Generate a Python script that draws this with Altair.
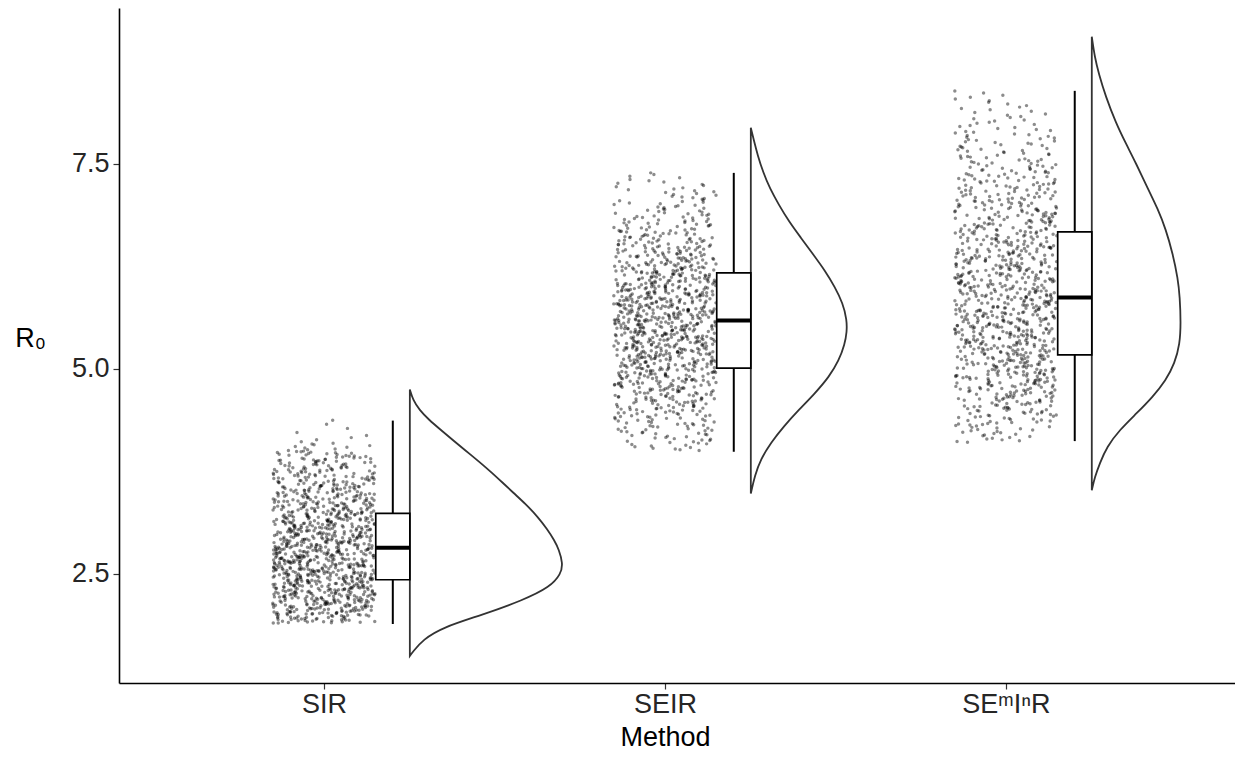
import altair as alt
import pandas as pd

# ---------------- data ----------------
METHODS = ["SIR", "SEIR", "SEᵐIⁿR"]
Y_TICKS = [2.5, 5.0, 7.5]

# jittered samples, summarised as counts per 0.1-wide R0 bin
BIN_WIDTH = 0.1
SIR_BIN_START = 1.9
SIR_COUNTS = [40, 50, 56, 60, 62, 64, 64, 64, 62, 60, 58, 56, 53, 50, 46, 42,
              38, 34, 29, 28, 24, 10, 4, 2, 2]
SEIR_BIN_START = 4.0
SEIR_COUNTS = [11, 13, 16, 18, 22, 25, 29, 32, 36, 39, 42, 45, 47, 49, 50, 50,
               50, 49, 47, 45, 42, 39, 36, 32, 29, 25, 22, 18, 16, 13, 11, 9, 7, 5]
SEMINR_BIN_START = 4.1
SEMINR_COUNTS = [10, 12, 16, 19, 22, 25, 27, 30, 32, 33, 34, 35, 36, 36, 36, 36,
                 35, 35, 34, 33, 32, 32, 31, 30, 28, 27, 26, 25, 23, 22, 20, 19,
                 17, 16, 14, 12, 11, 10, 8, 7, 6, 5, 4]

# box-plot statistics
BOX_LOW = [1.89, 3.99, 4.12]
BOX_Q1 = [2.43, 5.01, 5.17]
BOX_MEDIAN = [2.82, 5.59, 5.87]
BOX_Q3 = [3.24, 6.17, 6.67]
BOX_HIGH = [4.37, 7.39, 8.39]

# half-violin density curves
SIR_VIOLIN_R0 = [1.50, 1.55, 1.70, 1.85, 2.00, 2.18, 2.34, 2.50, 2.63, 2.80, 2.91, 3.05,
                 3.20, 3.35, 3.49, 3.65, 3.80, 3.95, 4.13, 4.26, 4.38, 4.50, 4.62, 4.75]
SIR_VIOLIN_DENS = [0, 0.014, 0.062, 0.156, 0.341, 0.536, 0.664, 0.716, 0.725, 0.706, 0.685,
                   0.650, 0.605, 0.550, 0.490, 0.425, 0.360, 0.290, 0.205, 0.145, 0.090,
                   0.045, 0.015, 0]
SEIR_VIOLIN_R0 = [3.48, 3.70, 3.90, 4.10, 4.30, 4.50, 4.70, 4.90, 5.10, 5.30, 5.45, 5.60,
                  5.80, 6.00, 6.20, 6.40, 6.60, 6.80, 7.00, 7.20, 7.40, 7.60, 7.80, 7.94]
SEIR_VIOLIN_DENS = [0, 0.019, 0.047, 0.095, 0.156, 0.227, 0.303, 0.370, 0.417, 0.445, 0.455,
                    0.455, 0.436, 0.398, 0.351, 0.294, 0.237, 0.180, 0.133, 0.090, 0.058,
                    0.033, 0.013, 0]
SEMINR_VIOLIN_R0 = [3.52, 3.68, 3.85, 4.05, 4.26, 4.46, 4.66, 4.86, 5.07, 5.30, 5.56, 5.88,
                    6.10, 6.40, 6.70, 6.95, 7.20, 7.51, 7.75, 8.00, 8.32, 8.60, 8.80, 9.05]
SEMINR_VIOLIN_DENS = [0, 0.014, 0.038, 0.071, 0.133, 0.213, 0.289, 0.351, 0.393, 0.417, 0.422,
                      0.417, 0.408, 0.384, 0.351, 0.313, 0.265, 0.209, 0.161, 0.114, 0.066,
                      0.033, 0.014, 0]

# ---------------- tables built from the arrays ----------------
bins = [(SIR_BIN_START, SIR_COUNTS), (SEIR_BIN_START, SEIR_COUNTS),
        (SEMINR_BIN_START, SEMINR_COUNTS)]
pt_rows = []
for gi, (start, counts) in enumerate(bins):
    for k, c in enumerate(counts):
        lo = start + k * BIN_WIDTH
        for i in range(c):
            pt_rows.append({"idx": gi + 1, "method": METHODS[gi],
                            "r0": lo + (i + 0.5) / c * BIN_WIDTH})
points_df = pd.DataFrame(pt_rows)

violins = [(SIR_VIOLIN_R0, SIR_VIOLIN_DENS), (SEIR_VIOLIN_R0, SEIR_VIOLIN_DENS),
           (SEMINR_VIOLIN_R0, SEMINR_VIOLIN_DENS)]
v_rows = []
for gi, (rs, ds) in enumerate(violins):
    for r, d in zip(rs, ds):
        v_rows.append({"idx": gi + 1, "method": METHODS[gi], "r0": r, "dens": d})
violin_df = pd.DataFrame(v_rows)

box_df = pd.DataFrame({"idx": [1, 2, 3], "method": METHODS, "low": BOX_LOW, "q1": BOX_Q1,
                       "median": BOX_MEDIAN, "q3": BOX_Q3, "high": BOX_HIGH})

# ---------------- scales / axes ----------------
FONT = "Liberation Sans"
label_expr = " : ".join(
    [f"datum.value == {i + 1} ? '{m}'" for i, m in enumerate(METHODS[:-1])]
) + f" : '{METHODS[-1]}'"

x_scale = alt.Scale(domain=[0.399, 3.672], nice=False, zero=False)
y_scale = alt.Scale(domain=[1.171, 9.40], nice=False, zero=False)
x_axis = alt.Axis(values=[1, 2, 3], labelExpr=label_expr, title="Method",
                  titleX=546, titleY=62, titleBaseline="alphabetic",
                  labelPadding=2)
y_axis = alt.Axis(values=Y_TICKS, format=".1f", title="R₀", titleAngle=0,
                  titleX=-89, titleY=330, titleAlign="center", titleBaseline="middle",
                  labelPadding=4)


def X(field):
    return alt.X(field, type="quantitative", scale=x_scale, axis=x_axis)


def X2(field):
    return alt.X2(field)


def Y(field):
    return alt.Y(field, type="quantitative", scale=y_scale, axis=y_axis)


pts = alt.Chart(points_df).transform_calculate(
    jx="datum.idx + (random() - 0.5) * 0.30"
).mark_circle(size=12, color="black", opacity=0.45).encode(
    x=X("jx"), y=Y("r0")
)

violin = alt.Chart(violin_df).transform_calculate(
    vb="datum.idx + 0.252", vx="datum.idx + 0.252 + datum.dens * 0.619"
).mark_area(orient="horizontal", interpolate="basis", fill="white",
            stroke="#333333", strokeWidth=1.8).encode(
    y=Y("r0"), x=X("vx"), x2=X2("vb"), detail="method:N"
)

box_base = alt.Chart(box_df).transform_calculate(
    bx1="datum.idx + 0.152", bx2="datum.idx + 0.252", wx="datum.idx + 0.202"
)
whisk_hi = box_base.mark_rule(color="black", strokeWidth=2).encode(
    x=X("wx"), y=Y("q3"), y2=alt.Y2("high"))
whisk_lo = box_base.mark_rule(color="black", strokeWidth=2).encode(
    x=X("wx"), y=Y("low"), y2=alt.Y2("q1"))
box = box_base.mark_rect(fill="white", stroke="black", strokeWidth=1.7).encode(
    x=X("bx1"), x2=X2("bx2"), y=Y("q1"), y2=alt.Y2("q3"))
med = box_base.mark_rule(color="black", strokeWidth=4).encode(
    x=X("bx1"), x2=X2("bx2"), y=Y("median"))

chart = alt.layer(violin, pts, whisk_hi, whisk_lo, box, med).properties(
    width=1116, height=675,
    autosize=alt.AutoSizeParams(type="none"),
    padding={"left": 111, "top": 0, "right": 0, "bottom": 70},
    background="white",
).configure_view(stroke=None).configure_axis(
    grid=False, domainColor="black", domainWidth=1.6, tickColor="#333333",
    tickSize=6, tickWidth=1.2, labelFont=FONT, labelFontSize=27, labelColor="#262626",
    titleFont=FONT, titleFontSize=27, titleColor="black", titleFontWeight="normal"
)

chart.save("out.html", embed_options={"renderer": "svg", "actions": False})
